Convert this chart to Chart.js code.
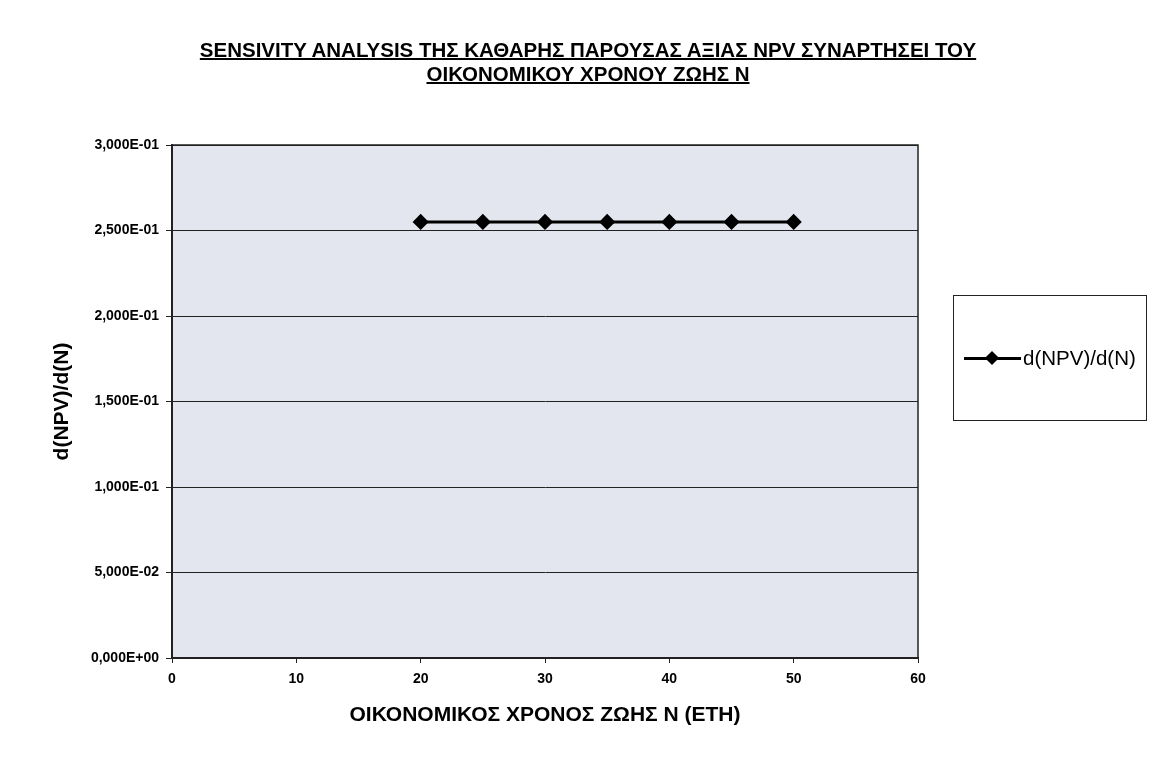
<!DOCTYPE html>
<html>
<head>
<meta charset="utf-8">
<script src="https://cdn.jsdelivr.net/npm/chart.js@4/dist/chart.umd.min.js"></script>
<style>
  body { margin: 0; background: #fff; font-family: "Liberation Sans", Arial, sans-serif; }
  #wrap { position: relative; width: 1153px; height: 761px; }
  #title {
    position: absolute; left: 188px; width: 800px; top: 38px;
    text-align: center; font-weight: bold; font-size: 20.5px; line-height: 24px;
    text-decoration: underline; text-decoration-thickness: 2px; white-space: nowrap;
  }
  #legend {
    position: absolute; left: 953px; top: 295px; width: 194px; height: 126px;
    border: 1px solid #222; box-sizing: border-box;
    display: flex; align-items: center; padding-left: 10px;
    font-size: 20.5px; color: #000;
  }
  #legend .mark { position: relative; width: 57px; height: 16px; margin-right: 2px; }
  #legend .mark .ln { position: absolute; left: 0; right: 0; top: 7px; height: 3px; background: #000; }
  #legend .mark .dm { position: absolute; left: 23px; top: 3px; width: 10px; height: 10px; background: #000; transform: rotate(45deg); }
</style>
</head>
<body>
<div id="wrap">
  <canvas id="myChart" width="1153" height="761"></canvas>
  <div id="title">SENSIVITY ANALYSIS ΤΗΣ ΚΑΘΑΡΗΣ ΠΑΡΟΥΣΑΣ ΑΞΙΑΣ NPV ΣΥΝΑΡΤΗΣΕΙ ΤΟΥ<br>ΟΙΚΟΝΟΜΙΚΟΥ ΧΡΟΝΟΥ ΖΩΗΣ Ν</div>
  <div id="legend"><span class="mark"><span class="ln"></span><span class="dm"></span></span>d(NPV)/d(N)</div>
</div>
<script>
var years = [20, 25, 30, 35, 40, 45, 50];
var sensitivity = [0.255, 0.255, 0.255, 0.255, 0.255, 0.255, 0.255];
var seriesLabel = "d(NPV)/d(N)";
var xTitle = "ΟΙΚΟΝΟΜΙΚΟΣ ΧΡΟΝΟΣ ΖΩΗΣ Ν (ΕΤΗ)";
var yTitle = "d(NPV)/d(N)";

// 0.25 -> "2,500E-01"
function sciLabel(v) {
  var s = Number(v).toExponential(3);
  var parts = s.split("e");
  var exp = parseInt(parts[1]);
  var sign = exp < 0 ? "-" : "+";
  var e = Math.abs(exp);
  return parts[0].replace(".", ",") + "E" + sign + (e < 10 ? "0" + e : e);
}

var plotBox = {
  id: "plotBox",
  beforeDraw: function (chart) {
    var a = chart.chartArea, c = chart.ctx;
    c.save();
    c.fillStyle = "#e3e6ee";
    c.fillRect(a.left, a.top, a.right - a.left, a.bottom - a.top);
    c.restore();
  },
  afterDatasetsDraw: function (chart) {
    var a = chart.chartArea, c = chart.ctx;
    c.save();
    c.strokeStyle = "#222";
    c.lineWidth = 1.5;
    c.strokeRect(a.left, a.top, a.right - a.left, a.bottom - a.top);
    c.restore();
  }
};

var tickFont = { family: "Liberation Sans", size: 14, weight: "bold" };
var titleFont = { family: "Liberation Sans", size: 21, weight: "bold" };

var ctx = document.getElementById("myChart").getContext("2d");
var chart = new Chart(ctx, {
  type: "line",
  data: {
    datasets: [{
      label: seriesLabel,
      data: years.map(function (x, i) { return { x: x, y: sensitivity[i] }; }),
      borderColor: "#000",
      backgroundColor: "#000",
      borderWidth: 3,
      pointStyle: "rectRot",
      pointRadius: 6,
      pointHoverRadius: 6,
      tension: 0
    }]
  },
  options: {
    responsive: false,
    animation: false,
    layout: { padding: { top: 145, right: 235, bottom: 33, left: 50 } },
    plugins: { legend: { display: false }, tooltip: { enabled: false }, title: { display: false } },
    scales: {
      x: {
        type: "linear", min: 0, max: 60,
        ticks: { stepSize: 10, color: "#000", font: tickFont, padding: 8 },
        grid: { drawOnChartArea: false, color: "#222", tickLength: 5 },
        border: { color: "#222", width: 2 },
        title: { display: true, text: xTitle, color: "#000", font: titleFont, padding: 0 },
        afterFit: function (s) { s.height = 70; }
      },
      y: {
        min: 0, max: 0.3,
        ticks: { stepSize: 0.05, color: "#000", font: tickFont, padding: 7, callback: function (v) { return sciLabel(v); } },
        grid: { color: "#222", lineWidth: 1, tickLength: 6 },
        border: { color: "#222", width: 2 },
        title: { display: true, text: yTitle, color: "#000", font: titleFont, padding: 0 },
        afterFit: function (s) { s.width = 122; }
      }
    }
  },
  plugins: [plotBox]
});
</script>
</body>
</html>
